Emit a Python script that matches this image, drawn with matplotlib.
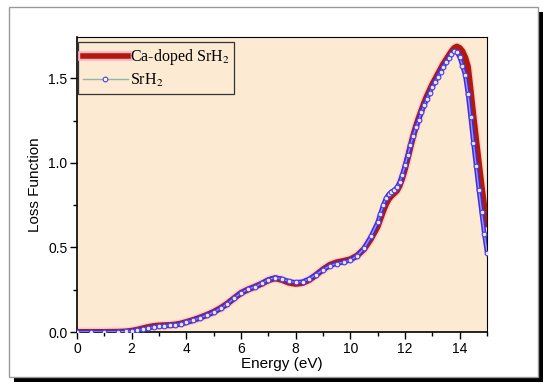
import matplotlib
matplotlib.use("Agg")
import matplotlib.pyplot as plt
from matplotlib.patches import Rectangle
from matplotlib.lines import Line2D
from matplotlib.ticker import MultipleLocator

plt.rcParams['font.family'] = ['Liberation Sans', 'DejaVu Sans']
plt.rcParams['mathtext.fontset'] = 'stix'

energy = [0, 0.5, 1.0, 1.5, 1.8, 2.0, 2.2, 2.4, 2.6, 2.8, 3.0, 3.2, 3.4, 3.6, 3.8,
          4.0, 4.25, 4.5, 4.75, 5.0, 5.25, 5.5, 5.75, 6.0, 6.25, 6.5, 6.75, 7.0,
          7.25, 7.5, 7.75, 8.0, 8.25, 8.5, 8.75, 9.0, 9.25, 9.5, 9.75, 10.0,
          10.25, 10.5, 10.75, 11.0, 11.1, 11.2, 11.3, 11.4, 11.5, 11.6, 11.7,
          11.8, 11.9, 12.0, 12.1, 12.2, 12.3, 12.4, 12.5, 12.6, 12.7, 12.8, 12.9,
          13.0, 13.1, 13.2, 13.3, 13.4, 13.5, 13.6, 13.7, 13.8, 13.9, 14.0, 14.1,
          14.2, 14.3, 14.4, 14.5, 14.6, 14.7, 14.8, 14.9, 15.0]

srh2 = [0, 0, 0, 0.001, 0.003, 0.006, 0.011, 0.017, 0.024, 0.030, 0.034, 0.037,
        0.039, 0.042, 0.049, 0.058, 0.070, 0.084, 0.100, 0.118, 0.140, 0.167,
        0.200, 0.232, 0.252, 0.268, 0.287, 0.310, 0.322, 0.314, 0.300, 0.294,
        0.298, 0.315, 0.340, 0.368, 0.392, 0.405, 0.413, 0.425, 0.450, 0.495,
        0.565, 0.650, 0.700, 0.750, 0.790, 0.815, 0.830, 0.840, 0.855, 0.885,
        0.930, 0.985, 1.045, 1.105, 1.160, 1.210, 1.255, 1.300, 1.340, 1.380,
        1.415, 1.450, 1.480, 1.510, 1.540, 1.570, 1.595, 1.620, 1.645, 1.660,
        1.655, 1.625, 1.575, 1.520, 1.410, 1.270, 1.120, 0.980, 0.840, 0.710,
        0.580, 0.470]

ca_srh2 = [0, 0, 0, 0.001, 0.003, 0.007, 0.013, 0.021, 0.029, 0.035, 0.038,
           0.040, 0.041, 0.044, 0.050, 0.059, 0.071, 0.085, 0.101, 0.119, 0.141,
           0.168, 0.200, 0.231, 0.251, 0.267, 0.285, 0.306, 0.318, 0.308, 0.292,
           0.285, 0.290, 0.308, 0.338, 0.370, 0.397, 0.412, 0.420, 0.430, 0.452,
           0.490, 0.550, 0.625, 0.670, 0.715, 0.755, 0.785, 0.805, 0.820, 0.835,
           0.865, 0.910, 0.965, 1.030, 1.095, 1.160, 1.215, 1.265, 1.310, 1.355,
           1.395, 1.430, 1.465, 1.495, 1.525, 1.555, 1.585, 1.610, 1.635, 1.660,
           1.680, 1.688, 1.680, 1.660, 1.625, 1.570, 1.430, 1.280, 1.140, 1.000,
           0.865, 0.740, 0.620]

xticks = [0, 2, 4, 6, 8, 10, 12, 14]
yticks = [0.0, 0.5, 1.0, 1.5]

fig = plt.figure(figsize=(5.5, 3.92), dpi=100)
fig.patch.set_facecolor('white')

# framed border with drop shadow
fig.patches.append(Rectangle((14/550, 1-382/392), (543-14)/550, (382-12)/392,
                             transform=fig.transFigure, facecolor='black',
                             edgecolor='none', zorder=-20))
fig.patches.append(Rectangle((9/550, 1-377/392), (538-9)/550, (377-7)/392,
                             transform=fig.transFigure, facecolor='white',
                             edgecolor='#9a9a9a', linewidth=1.0, zorder=-19))

ax = fig.add_axes([77/550, 1-332/392, (487-77)/550, (332-37)/392])
ax.set_facecolor('#fcebd2')

# Ca-doped SrH2: thick dark red with faint pink glow
ax.plot(energy, ca_srh2, color='#ff9ec0', lw=6.5, alpha=0.35, solid_capstyle='butt', zorder=2)
ax.plot(energy, ca_srh2, color='#b01a0c', lw=4.4, solid_capstyle='butt', zorder=3)

# SrH2: open circles (dense band)
ax.plot(energy, srh2, color='#3a2ee0', lw=3.2, zorder=4, solid_capstyle='butt')
ax.plot(energy, srh2, color='#a492f2', lw=1.0, zorder=5)
ax.plot(energy, srh2, linestyle='none', marker='o', markersize=3.4,
        markerfacecolor='#efe4ff', markeredgecolor='#4b3fe0', markeredgewidth=0.8, zorder=6)

ax.set_xlim(0, 15)
ax.set_ylim(0, 1.745)
ax.set_xticks(xticks)
ax.set_yticks(yticks)
ax.set_yticklabels(['0.0', '0.5', '1.0', '1.5'])
ax.xaxis.set_minor_locator(MultipleLocator(1))
ax.yaxis.set_minor_locator(MultipleLocator(0.25))
ax.tick_params(axis='both', which='major', direction='out', length=5, width=1,
               labelsize=10, pad=2)
ax.tick_params(axis='both', which='minor', direction='out', length=3, width=1)
ax.tick_params(top=False, right=False, which='both')
for side in ['left', 'bottom']:
    ax.spines[side].set_linewidth(1.2)
for side in ['top', 'right']:
    ax.spines[side].set_linewidth(0.8)

ax.set_xlabel('Energy (eV)', fontsize=11, labelpad=1)
ax.set_ylabel('Loss Function', fontsize=11, labelpad=4)

h1 = (Line2D([], [], color='#ffb0cc', lw=7), Line2D([], [], color='#b01a0c', lw=4))
h2 = Line2D([], [], color='#8fb4aa', lw=1, marker='o', markersize=3.4,
            markerfacecolor='white', markeredgecolor='#4b3fe0', markeredgewidth=0.8)
leg = ax.legend([h1, h2], ['Ca-doped SrH$_2$', 'SrH$_2$'],
                loc='upper left', bbox_to_anchor=(0.003, 0.982), borderaxespad=0,
                prop={'family': 'Liberation Serif', 'size': 11.5},
                handlelength=2.8, handletextpad=0.15, labelspacing=0.3,
                borderpad=0.3, fancybox=False, framealpha=1, edgecolor='#333333',
                facecolor='#fcebd2')
leg.get_frame().set_linewidth(0.9)

fig.savefig('out.png', dpi=100, facecolor='white')
